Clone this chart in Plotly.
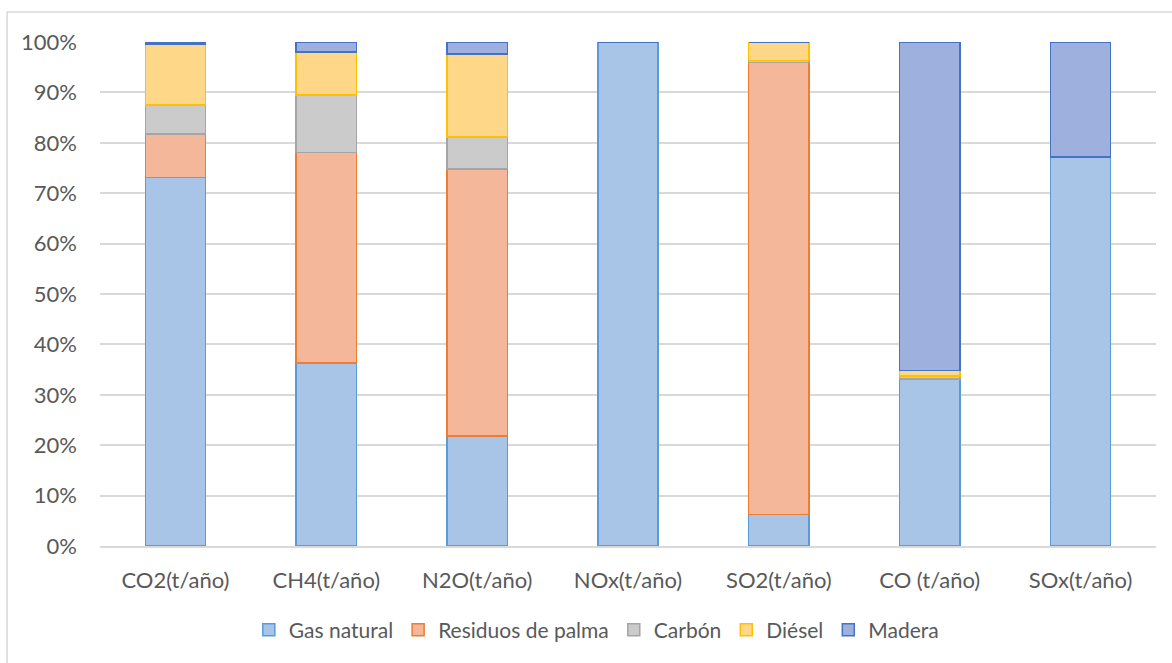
import plotly.graph_objects as go

categories = ["CO2(t/año)", "CH4(t/año)", "N2O(t/año)", "NOx(t/año)", "SO2(t/año)", "CO (t/año)", "SOx(t/año)"]
series_names = ["Gas natural", "Residuos de palma", "Carbón", "Diésel", "Madera"]
gas_natural = [73.1, 36.3, 21.8, 100.0, 6.3, 33.1, 77.2]
residuos_palma = [8.6, 41.8, 53.0, 0.0, 89.6, 0.0, 0.0]
carbon = [5.8, 11.4, 6.4, 0.0, 0.4, 0.6, 0.0]
diesel = [12.1, 8.5, 16.4, 0.0, 3.7, 1.1, 0.0]
madera = [0.4, 2.0, 2.4, 0.0, 0.0, 65.2, 22.8]
y_ticks = [0, 10, 20, 30, 40, 50, 60, 70, 80, 90, 100]

values = [gas_natural, residuos_palma, carbon, diesel, madera]
fills = ["#A8C5E8", "#F5B799", "#CBCBCB", "#FED888", "#9EB0DE"]
lines = ["#5B9BD5", "#ED7D31", "#A5A5A5", "#FFC000", "#4472C4"]

fig = go.Figure()
for name, vals, fc, lc in zip(series_names, values, fills, lines):
    fig.add_trace(go.Bar(
        x=categories, y=[v / 100 for v in vals], name=name,
        marker=dict(color=fc, line=dict(color=lc, width=1.5)),
        width=0.4,
    ))

font_family = "Lato, 'Open Sans', sans-serif"
fig.update_layout(
    barmode="stack",
    width=1172, height=663,
    margin=dict(l=100, r=16, t=42, b=117),
    paper_bgcolor="white", plot_bgcolor="white",
    font=dict(family=font_family, size=22, color="#595959"),
    yaxis=dict(range=[0, 1], tickvals=[t / 100 for t in y_ticks],
               ticktext=[f"{t}%" for t in y_ticks],
               showgrid=True, gridcolor="#D9D9D9", gridwidth=1.5,
               zeroline=False, showline=False, ticks="", ticklabelstandoff=22),
    xaxis=dict(showgrid=False, showline=True, linecolor="#D9D9D9", linewidth=1.5,
               ticks="", ticklabelstandoff=14),
    legend=dict(orientation="h", x=0.47, xanchor="center", y=-0.167, yanchor="middle",
                font=dict(size=21, color="#595959"), traceorder="normal",
                itemwidth=30),
    bargap=0.6,
    showlegend=True,
)
fig.add_shape(type="rect", xref="paper", yref="paper",
              x0=-0.088, x1=1.03, y0=-0.26, y1=1.0595,
              line=dict(color="#D9D9D9", width=1.5), fillcolor="rgba(0,0,0,0)", layer="below")

fig.write_html("out.html", config={"displayModeBar": False},
               post_script="document.body.style.margin='0px';document.body.style.overflow='hidden';")
